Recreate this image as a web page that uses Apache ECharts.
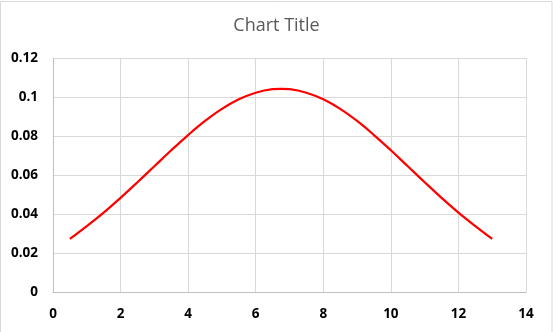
<!DOCTYPE html>
<html>
<head>
<meta charset="utf-8">
<script src="https://cdn.jsdelivr.net/npm/echarts@6/dist/echarts.min.js"></script>
<style>
html,body{margin:0;padding:0;background:#fff;}
#c{width:553px;height:332px;}
</style>
</head>
<body>
<div id="c"></div>
<script>
const titleText = "Chart Title";
const xValues = [0.5, 1, 1.5, 2, 2.5, 3, 3.5, 4, 4.5, 5, 5.5, 6, 6.5, 6.75, 7, 7.5, 8, 8.5, 9, 9.5, 10, 10.5, 11, 11.5, 12, 12.5, 13];
const yValues = [0.0272, 0.0338, 0.0407, 0.0483, 0.0563, 0.0645, 0.0727, 0.0805, 0.0877, 0.0939, 0.0988, 0.1022, 0.1040, 0.1042, 0.1040, 0.1022, 0.0988, 0.0939, 0.0877, 0.0805, 0.0727, 0.0645, 0.0563, 0.0483, 0.0407, 0.0338, 0.0272];
const xTicks = [0, 2, 4, 6, 8, 10, 12, 14];
const yTicks = [0, 0.02, 0.04, 0.06, 0.08, 0.1, 0.12];

const chart = echarts.init(document.getElementById('c'), null, {renderer: 'canvas'});
const labelStyle = {color: '#000', fontWeight: 'bold', fontSize: 13.5, fontFamily: 'Open Sans, sans-serif'};
chart.setOption({
  animation: false,
  title: {
    text: titleText, left: 'center', top: 12,
    textStyle: {color: '#595959', fontSize: 18, fontWeight: 'normal', fontFamily: 'Open Sans, sans-serif'}
  },
  graphic: [{
    type: 'rect', shape: {x: 0.5, y: 1.5, width: 551.5, height: 332},
    style: {fill: 'none', stroke: '#d9d9d9', lineWidth: 1}, silent: true
  }],
  grid: {left: 53, right: 27, top: 58, bottom: 40, containLabel: false},
  xAxis: {
    type: 'value', min: xTicks[0], max: xTicks[xTicks.length - 1], interval: 2,
    axisLine: {show: true, lineStyle: {color: '#bfbfbf'}},
    axisTick: {show: false},
    splitLine: {show: true, lineStyle: {color: '#d9d9d9'}},
    axisLabel: Object.assign({margin: 15, formatter: v => String(v)}, labelStyle)
  },
  yAxis: {
    type: 'value', min: yTicks[0], max: yTicks[yTicks.length - 1], interval: 0.02,
    axisLine: {show: true, lineStyle: {color: '#bfbfbf'}},
    axisTick: {show: false},
    splitLine: {show: true, lineStyle: {color: '#d9d9d9'}},
    axisLabel: Object.assign({margin: 15, formatter: v => String(parseFloat(v.toFixed(2)))}, labelStyle)
  },
  series: [{
    type: 'line', smooth: 0.4, symbol: 'none',
    data: xValues.map((x, i) => [x, yValues[i]]),
    lineStyle: {color: '#ff0000', width: 2.25}
  }]
});
</script>
</body>
</html>
